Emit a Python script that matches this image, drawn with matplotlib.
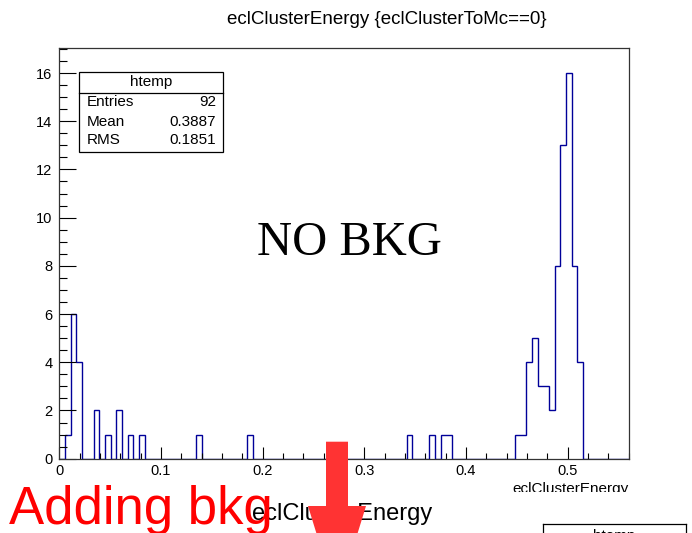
import numpy as np
import matplotlib
matplotlib.use("Agg")
import matplotlib.pyplot as plt
from matplotlib.patches import Rectangle, Polygon
from matplotlib.lines import Line2D

plt.rcParams['font.family'] = ['Liberation Sans', 'DejaVu Sans']

# htemp: 100 bins between 0 and 0.56, only the filled bins listed
n_bins = 100
x_lo, x_hi = 0.0, 0.56
filled_bins = [1, 2, 3, 6, 8, 10, 12, 14, 24, 33, 61, 65, 67, 68,
               80, 81, 82, 83, 84, 85, 86, 87, 88, 89, 90, 91]
bin_counts = [1, 6, 4, 2, 1, 2, 1, 1, 1, 1, 1, 1, 1, 1,
              1, 1, 4, 5, 3, 3, 2, 8, 13, 16, 8, 4]

x_ticks = [0, 0.1, 0.2, 0.3, 0.4, 0.5]
x_tick_labels = ["0", "0.1", "0.2", "0.3", "0.4", "0.5"]
y_ticks = [0, 2, 4, 6, 8, 10, 12, 14, 16]

stats_names = ["Entries", "Mean", "RMS"]
stats_values = ["92", "0.3887", "0.1851"]

W, H = 692, 533
counts = np.zeros(n_bins)
counts[filled_bins] = bin_counts
edges = np.linspace(x_lo, x_hi, n_bins + 1)


def px(x, y):
    # canvas pixel -> figure fraction
    return x / W, 1 - y / H


fig = plt.figure(figsize=(W / 100, H / 100), dpi=100)
fig.patch.set_facecolor("white")

left, right, top, bottom = 59.4, 628.7, 47.7, 458.7
ax = fig.add_axes([left / W, 1 - bottom / H, (right - left) / W, (bottom - top) / H])

ax.stairs(counts, edges, baseline=0, color="#000099", lw=1.0)
ax.set_xlim(x_lo, x_hi)
ax.set_ylim(0, 17.05)

ax.set_xticks(x_ticks)
ax.set_xticklabels(x_tick_labels)
ax.set_xticks(np.arange(0, 0.561, 0.02), minor=True)
ax.set_yticks(y_ticks)
ax.set_yticks(np.arange(0, 17.01, 0.5), minor=True)
ax.tick_params(axis="x", which="major", direction="in", length=8.6, width=0.8, labelsize=10.5, pad=4)
ax.tick_params(axis="x", which="minor", direction="in", length=4.3, width=0.8)
ax.tick_params(axis="y", which="major", direction="in", length=12.2, width=0.8, labelsize=10.5, pad=5)
ax.tick_params(axis="y", which="minor", direction="in", length=5.8, width=0.8)
for s in ax.spines.values():
    s.set_color("#333333")
    s.set_linewidth(0.9)

ax.set_xlabel("eclClusterEnergy", fontsize=11, loc="right", labelpad=3)

fig.text(*px(387, 19), "eclClusterEnergy {eclClusterToMc==0}", fontsize=13.5,
         ha="center", va="center")

# stats box
bx0, by0, bx1, by1 = 79, 72.3, 222.7, 152.3
x0f, y0f = px(bx0, by1)
x1f, y1f = px(bx1, by0)
fig.add_artist(Rectangle((x0f, y0f), x1f - x0f, y1f - y0f, transform=fig.transFigure,
                         facecolor="white", edgecolor="black", lw=0.9, zorder=3))
sep = px(0, 92.7)[1]
fig.add_artist(Line2D([x0f, x1f], [sep, sep], transform=fig.transFigure,
                      color="black", lw=0.9, zorder=4))
fig.text(*px(151, 82), "htemp", fontsize=11, ha="center", va="center", zorder=5)
for name, val, yy in zip(stats_names, stats_values, [101.7, 121.7, 140.5]):
    fig.text(*px(87, yy), name, fontsize=11, ha="left", va="center", zorder=5)
    fig.text(*px(216, yy), val, fontsize=11, ha="right", va="center", zorder=5)

fig.text(*px(349, 243), "NO BKG", fontsize=35, family="Liberation Serif",
         ha="center", va="center", zorder=5)

# lower canvas strip
strip = px(0, 492)[1]
fig.add_artist(Rectangle((0, 0), 1, strip, transform=fig.transFigure,
                         facecolor="white", edgecolor="none", zorder=6))
fig.text(*px(252, 520), "eclClusterEnergy", fontsize=17, ha="left", va="baseline", zorder=7)

bl = px(543, 524)
fig.add_artist(Line2D([bl[0], px(686, 0)[0]], [bl[1], bl[1]], transform=fig.transFigure,
                      color="black", lw=0.9, zorder=7))
for xx in (543, 686):
    fig.add_artist(Line2D([xx / W, xx / W], [0, bl[1]], transform=fig.transFigure,
                          color="black", lw=0.9, zorder=7))
fig.text(*px(614, 540), "htemp", fontsize=11, ha="center", va="baseline", zorder=7)

fig.text(*px(9, 524), "Adding bkg", fontsize=38, color="#ff0000",
         ha="left", va="baseline", zorder=8)

# red arrow pointing down
arrow = [px(326, 441.7), px(348, 441.7), px(348, 506), px(366, 506),
         px(337, 600), px(308, 506), px(326, 506)]
fig.add_artist(Polygon(arrow, closed=True, transform=fig.transFigure,
                       facecolor="#ff3333", edgecolor="none", zorder=9))

fig.savefig("out.png", dpi=100)
